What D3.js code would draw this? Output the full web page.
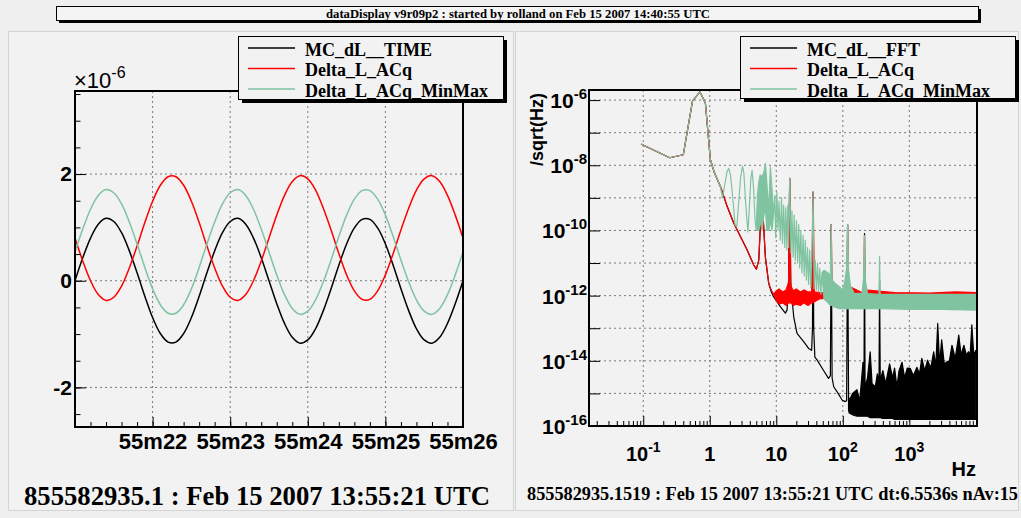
<!DOCTYPE html>
<html>
<head>
<meta charset="utf-8">
<script src="https://cdn.jsdelivr.net/npm/d3@7"></script>
<style>
  body { margin: 0; background: #efefef; }
  svg { display: block; }
</style>
</head>
<body>
<div id="chart"></div>
<script>
// ---------- time domain panel (amplitudes in units of 1e-6) ----------
const sampleStep = 0.1; // seconds after 13:55:21 UTC
const mcTime = [0, 0.43, 0.80, 1.06, 1.17, 1.11, 0.90, 0.56, 0.15, -0.29, -0.69, -0.99, -1.15, -1.15, -0.99, -0.69,
  -0.29, 0.15, 0.56, 0.90, 1.11, 1.17, 1.06, 0.80, 0.43, 0, -0.43, -0.80, -1.06, -1.17, -1.11, -0.90, -0.56, -0.15,
  0.29, 0.69, 0.99, 1.15, 1.15, 0.99, 0.69, 0.29, -0.15, -0.56, -0.90, -1.11, -1.17, -1.06, -0.80, -0.43, 0];
const acqTime = [0.80, 0.37, 0.00, -0.26, -0.37, -0.31, -0.10, 0.24, 0.65, 1.09, 1.49, 1.79, 1.95, 1.95, 1.79, 1.49,
  1.09, 0.65, 0.24, -0.10, -0.31, -0.37, -0.26, 0.00, 0.37, 0.80, 1.23, 1.60, 1.86, 1.97, 1.91, 1.70, 1.36, 0.95,
  0.51, 0.11, -0.19, -0.35, -0.35, -0.19, 0.11, 0.51, 0.95, 1.36, 1.70, 1.91, 1.97, 1.86, 1.60, 1.23, 0.80];
const minmaxTime = [0.54, 0.97, 1.34, 1.60, 1.71, 1.65, 1.44, 1.10, 0.69, 0.25, -0.15, -0.45, -0.61, -0.61, -0.45,
  -0.15, 0.25, 0.69, 1.10, 1.44, 1.65, 1.71, 1.60, 1.34, 0.97, 0.54, 0.11, -0.26, -0.52, -0.63, -0.57, -0.36, -0.02,
  0.39, 0.83, 1.23, 1.53, 1.69, 1.69, 1.53, 1.23, 0.83, 0.39, -0.02, -0.36, -0.57, -0.63, -0.52, -0.26, 0.11, 0.54];
const timeTickSec = [1, 2, 3, 4, 5];
const timeTickLabels = ["55m22", "55m23", "55m24", "55m25", "55m26"];
const ampTicks = [-2, 0, 2];
const ampTickLabels = ["-2", "0", "2"];

// ---------- spectrum panel: [freq Hz, value] or [freq Hz, min, max] ----------
const commonLow = [[0.094, 4.4e-8], [0.25, 1.7e-8], [0.40, 2.1e-8], [0.55, 9.3e-7], [0.71, 1.8e-6],
  [0.86, 8.0e-7], [1.02, 1.5e-8], [1.17, 6.0e-9], [1.45, 2.2e-9]];
const commonDescent = [[1.83, 5.4e-10], [2.29, 1.7e-10], [2.89, 6.5e-11], [3.65, 2.5e-11], [4.58, 8.7e-12],
  [5.02, 6.5e-12], [5.45, 1.2e-11], [5.92, 4.3e-10], [6.34, 2.6e-10], [6.86, 1.5e-11], [7.69, 2.4e-12]];
const mcFFT = [[8.4, 1.3e-12], [9.1, 9.3e-13], [11.5, 4.6e-13], [13.7, 2.9e-13], [14.5, 3.6e-13], [15.3, 3e-12],
  [15.9, 4e-9], [16.5, 2.5e-12], [17.3, 7.4e-13], [18.3, 2.2e-13], [20.5, 6.9e-14], [25.8, 3.9e-14], [30.6, 2.4e-14],
  [34, 2.1e-14], [35, 1e-13], [35.7, 1.5e-9], [36.5, 1e-13], [38, 1.3e-14], [41, 1.07e-14], [50, 5.5e-15],
  [61, 2.9e-15], [65, 3.5e-15], [67, 1.5e-10], [69, 3e-15], [73, 1.6e-15], [85, 1e-15], [97.5, 6.3e-16],
  [108, 5.6e-16], [114, 6e-16], [118, 1.5e-10], [122, 3e-16, 8e-16],
  [125, 2.5e-16, 6e-16], [140, 2.2e-16, 1.0e-15], [163, 2e-16, 1.3e-15], [180, 2e-16, 6e-16], [201, 2e-16, 9e-15],
  [208, 2e-16, 1.5e-15], [212, 2e-16, 8e-11], [216, 2e-16, 1.5e-15], [235, 2e-16, 3e-15], [258, 1.8e-16, 1.9e-14],
  [275, 1.8e-16, 2e-15], [308, 1.8e-16, 1.6e-15], [330, 1.8e-16, 4e-15], [350, 1.8e-16, 2.5e-15],
  [357, 1.8e-16, 3e-12], [365, 1.8e-16, 2.5e-15], [400, 1.7e-16, 5e-15], [440, 1.7e-16, 2e-15],
  [505, 1.7e-16, 8e-15], [560, 1.7e-16, 3e-15], [600, 1.6e-16, 6e-15], [650, 1.6e-16, 1.6e-15],
  [700, 1.6e-16, 5e-15], [777, 1.6e-16, 9e-15], [850, 1.6e-16, 3e-15], [930, 1.6e-16, 6e-15],
  [1030, 1.6e-16, 5.9e-15], [1150, 1.6e-16, 3.5e-15], [1300, 1.6e-16, 6.3e-15], [1420, 1.6e-16, 4e-15],
  [1540, 1.6e-16, 1.2e-14], [1700, 1.6e-16, 5e-15], [1880, 1.6e-16, 1.05e-14], [2100, 1.6e-16, 6e-15],
  [2320, 1.6e-16, 1.9e-14], [2500, 1.6e-16, 7e-15], [2670, 1.6e-16, 1.4e-13], [2850, 1.6e-16, 8e-15],
  [3060, 1.6e-16, 4.4e-14], [3350, 1.6e-16, 8e-15], [3660, 1.6e-16, 9.3e-15], [4000, 1.6e-16, 1e-14],
  [4370, 1.6e-16, 3e-14], [4900, 1.6e-16, 1.2e-14], [5530, 1.6e-16, 6.2e-14], [6000, 1.6e-16, 1.5e-14],
  [6600, 1.6e-16, 3e-14], [7200, 1.6e-16, 1.5e-14], [7730, 1.6e-16, 1.9e-14], [8200, 1.6e-16, 1.5e-14],
  [8700, 1.6e-16, 1.26e-13], [9300, 1.6e-16, 1.5e-14], [10000, 1.6e-16, 2.1e-14]];
const acqFFT = [[8.4, 1.5e-12], [9.1, 1.1e-12], [10, 7e-13, 1.4e-12], [11, 5.5e-13, 1.6e-12], [12.5, 6e-13, 1.3e-12],
  [14, 5e-13, 1.5e-12], [15.3, 6e-13, 2.5e-12], [15.9, 6e-13, 4e-9], [16.5, 6e-13, 2e-12], [18, 5e-13, 1.4e-12],
  [20, 5.5e-13, 1.6e-12], [23, 5e-13, 1.3e-12], [26, 6e-13, 1.5e-12], [30, 5e-13, 1.3e-12], [34, 6e-13, 1.3e-12],
  [35.7, 6e-13, 1.5e-9], [37.5, 6.5e-13, 1.3e-12], [45, 8e-13, 1.25e-12], [60, 8.5e-13, 1.2e-12],
  [65, 8.5e-13, 1.3e-12], [67, 8.5e-13, 1.5e-10], [69, 8.5e-13, 1.3e-12], [110, 8.5e-13, 1.2e-12],
  [116, 8.5e-13, 2e-12], [118, 8.5e-13, 1.5e-10], [120, 8.5e-13, 2e-12], [200, 8.5e-13, 1.2e-12],
  [208, 8.5e-13, 1.5e-12], [212, 8.5e-13, 7e-11], [216, 8.5e-13, 1.5e-12], [600, 8.5e-13, 1.25e-12],
  [2000, 8.5e-13, 1.2e-12], [5000, 8.5e-13, 1.3e-12], [10000, 8.5e-13, 1.25e-12]];
const minmaxFFT = [[1.55, 1.0e-9], [1.68, 2.5e-9], [1.82, 6.5e-9], [1.93, 8e-9], [2.05, 5e-9], [2.2, 1.2e-9],
  [2.4, 1.5e-10], [2.55, 1.3e-10], [2.7, 6e-10], [2.9, 4e-9], [3.1, 9.5e-9], [3.25, 6e-9], [3.5, 5e-10],
  [3.75, 9e-11], [3.95, 6e-10], [4.15, 4e-9], [4.33, 7e-9], [4.55, 2e-9], [4.8, 2e-10], [5.0, 1e-10],
  [5.2, 1e-10, 1.2e-9], [5.45, 1e-10, 3e-9], [5.7, 2e-10, 5e-9], [6.1, 1e-10, 4.5e-9], [6.5, 3e-10, 6e-9],
  [6.86, 5e-10, 1.15e-8], [7.2, 1e-10, 3e-9], [7.7, 1e-10, 4e-10], [8.15, 2e-10, 9e-9], [8.6, 1e-10, 2e-9],
  [9.1, 3e-10], [9.5, 1.2e-9], [9.8, 6e-11], [10.2, 1.5e-9], [10.6, 1e-10], [11, 8e-10], [11.5, 5e-11], [12, 1e-9],
  [12.4, 4e-11], [12.9, 6e-10], [13.4, 3e-11], [13.9, 5e-10], [14.4, 2.5e-11], [14.9, 6e-10], [15.3, 3e-11],
  [15.9, 4e-9], [16.6, 2e-11], [17.2, 4e-10], [17.9, 1.5e-11], [18.6, 3e-10], [19.3, 1.2e-11], [20.1, 2e-10],
  [20.9, 1e-11], [21.7, 1.5e-10], [22.5, 7e-12], [23.4, 1e-10], [24.3, 5e-12], [25.3, 7e-11], [26.3, 4e-12],
  [27.3, 5e-11], [28.4, 3e-12], [29.5, 3e-11], [30.6, 2.2e-12], [31.8, 2.5e-11], [33, 1.8e-12], [34.3, 1.5e-11],
  [35.7, 1.5e-9], [37, 1.6e-12], [38.5, 1.2e-11], [40, 1.5e-12], [41.6, 1e-11], [43.2, 1.3e-12], [45, 7e-12],
  [46.8, 1.1e-12], [48.5, 5e-12],
  [52, 8e-13, 6e-12], [60, 6e-13, 5e-12], [65, 5e-13, 4e-12],
  [67, 5e-13, 1.5e-10], [69, 5e-13, 3e-12], [75, 4.5e-13, 2.5e-12], [90, 4e-13, 1.8e-12], [100, 4e-13, 1.5e-12],
  [108, 4e-13, 3e-12], [114, 4e-13, 7e-12], [118, 4e-13, 1.5e-10], [122, 4e-13, 6e-12], [130, 4e-13, 2e-12],
  [150, 4e-13, 1.15e-12], [195, 4e-13, 1.2e-12], [205, 4e-13, 3.5e-12], [212, 4e-13, 7e-11],
  [218, 4e-13, 3e-12], [235, 4e-13, 1.15e-12], [350, 4e-13, 1.1e-12], [357, 4e-13, 1.6e-11],
  [364, 4e-13, 1.1e-12], [1000, 3.8e-13, 1.1e-12], [3000, 3.8e-13, 1.1e-12], [10000, 3.6e-13, 1.1e-12]];
const freqTicks = [0.1, 1, 10, 100, 1000];
const freqTickLabels = [["10", "-1"], ["1", ""], ["10", ""], ["10", "2"], ["10", "3"]];
const asdDecades = [1e-16, 1e-15, 1e-14, 1e-13, 1e-12, 1e-11, 1e-10, 1e-9, 1e-8, 1e-7, 1e-6];
const asdTicks = [1e-16, 1e-14, 1e-12, 1e-10, 1e-8, 1e-6];
const asdTickLabels = ["-16", "-14", "-12", "-10", "-8", "-6"];

const timeNames = ["MC_dL__TIME", "Delta_L_ACq", "Delta_L_ACq_MinMax"];
const fftNames = ["MC_dL__FFT", "Delta_L_ACq", "Delta_L_ACq_MinMax"];
const colors = ["#000000", "#ff0000", "#7fc3a1"];

const titleText = "dataDisplay v9r09p2 : started by rolland on Feb 15 2007 14:40:55 UTC";
const leftFooter = "855582935.1 : Feb 15 2007 13:55:21 UTC";
const rightFooter = "855582935.1519 : Feb 15 2007 13:55:21 UTC dt:6.5536s nAv:15";

// ---------- drawing ----------
const sans = "'Liberation Sans', Arial, sans-serif";
const serif = "'Liberation Serif', 'Times New Roman', serif";

const svg = d3.select("#chart").append("svg")
  .attr("width", 1021).attr("height", 518)
  .style("font-family", sans);

svg.append("rect").attr("width", 1021).attr("height", 518).attr("fill", "#efefef");

// pads
[[8.5, 31.5, 505, 479], [515.5, 31.5, 503, 479]].forEach(p => {
  svg.append("rect").attr("x", p[0]).attr("y", p[1]).attr("width", p[2]).attr("height", p[3])
    .attr("fill", "#f2f2f2").attr("stroke", "#d4d4d4");
});

// title box
svg.append("rect").attr("x", 59).attr("y", 9).attr("width", 922).attr("height", 14).attr("fill", "#000");
svg.append("rect").attr("x", 56.5).attr("y", 6.5).attr("width", 922).attr("height", 14)
  .attr("fill", "#f4f4f4").attr("stroke", "#000");
svg.append("text").attr("x", 518).attr("y", 17.5).attr("text-anchor", "middle")
  .attr("font-family", serif).attr("font-weight", "bold").attr("font-size", 12)
  .attr("textLength", 384).attr("lengthAdjust", "spacingAndGlyphs").text(titleText);

function legend(x, y, w, h, names) {
  svg.append("rect").attr("x", x + 4).attr("y", y + 4).attr("width", w).attr("height", h).attr("fill", "#000");
  svg.append("rect").attr("x", x + 0.5).attr("y", y + 0.5).attr("width", w).attr("height", h)
    .attr("fill", "#f2f2f2").attr("stroke", "#000");
  names.forEach((n, i) => {
    const cy = y + 12 + i * 20.5;
    svg.append("line").attr("x1", x + 10).attr("x2", x + 57).attr("y1", cy).attr("y2", cy)
      .attr("stroke", colors[i]).attr("stroke-width", 1.5);
    svg.append("text").attr("x", x + 67).attr("y", cy + 7.5)
      .attr("font-family", serif).attr("font-weight", "bold").attr("font-size", 18).text(n);
  });
}

function styleAxis(g) {
  g.select(".domain").remove();
  g.selectAll(".tick line").attr("stroke", "#000").attr("stroke-width", 1);
  g.selectAll(".tick text").attr("fill", "#000").attr("font-family", sans).attr("font-weight", "bold");
}

function grid(g, xs, ys, x0, x1, y0, y1) {
  g.selectAll(null).data(xs).join("line")
    .attr("x1", d => d).attr("x2", d => d).attr("y1", y0).attr("y2", y1)
    .attr("stroke", "#7a7a7a").attr("stroke-dasharray", "2,3");
  g.selectAll(null).data(ys).join("line")
    .attr("x1", x0).attr("x2", x1).attr("y1", d => d).attr("y2", d => d)
    .attr("stroke", "#7a7a7a").attr("stroke-dasharray", "2,3");
}

// ----- left: time series -----
const L = { x0: 75, x1: 463, y0: 91, y1: 427 };
const tx = d3.scaleLinear().domain([0, 5]).range([L.x0, L.x1]);
const ty = d3.scaleLinear().domain([-2.742, 3.557]).range([L.y1, L.y0]);
const gl = svg.append("g");

grid(gl, timeTickSec.slice(0, 4).map(tx), ampTicks.map(ty), L.x0, L.x1, L.y0, L.y1);

svg.append("clipPath").attr("id", "clipL").append("rect")
  .attr("x", L.x0).attr("y", L.y0).attr("width", L.x1 - L.x0).attr("height", L.y1 - L.y0);

const tline = d3.line().x((d, i) => tx(i * sampleStep)).y(d => ty(d)).curve(d3.curveCatmullRom);
[mcTime, acqTime, minmaxTime].forEach((s, i) => {
  gl.append("path").datum(s).attr("clip-path", "url(#clipL)")
    .attr("fill", "none").attr("stroke", colors[i]).attr("stroke-width", 1.5).attr("d", tline);
});

const minorSec = d3.range(0, 5.001, 0.2);
gl.append("g").attr("transform", `translate(0,${L.y1})`)
  .call(d3.axisBottom(tx).tickValues(minorSec).tickFormat("").tickSize(-5).tickSizeOuter(0)).call(styleAxis);
gl.append("g").attr("transform", `translate(0,${L.y1})`)
  .call(d3.axisBottom(tx).tickValues([0].concat(timeTickSec)).tickSize(-10).tickSizeOuter(0).tickPadding(6)
    .tickFormat(d => d === 0 ? "" : timeTickLabels[timeTickSec.indexOf(d)]))
  .call(styleAxis)
  .selectAll(".tick text").attr("font-size", 22);

const minorAmp = d3.range(-2.5, 3.51, 0.5);
gl.append("g").attr("transform", `translate(${L.x0},0)`)
  .call(d3.axisLeft(ty).tickValues(minorAmp).tickFormat("").tickSize(-5.5).tickSizeOuter(0)).call(styleAxis);
gl.append("g").attr("transform", `translate(${L.x0},0)`)
  .call(d3.axisLeft(ty).tickValues(ampTicks).tickSize(-11).tickSizeOuter(0).tickPadding(3)
    .tickFormat((d, i) => ampTickLabels[i]))
  .call(styleAxis)
  .selectAll(".tick text").attr("font-size", 21);

gl.append("rect").attr("x", L.x0).attr("y", L.y0).attr("width", L.x1 - L.x0).attr("height", L.y1 - L.y0)
  .attr("fill", "none").attr("stroke", "#000").attr("stroke-width", 2);

const expo = gl.append("text").attr("x", L.x0 - 1).attr("y", 88).attr("font-size", 22);
expo.append("tspan").text("\u00d710");
expo.append("tspan").attr("dy", -10).attr("font-size", 16).text("-6");

legend(238, 36, 265, 63, timeNames);

// ----- right: spectra -----
const R = { x0: 589, x1: 977, y0: 90, y1: 426 };
const fx = d3.scaleLog().domain([0.0153, 10400]).range([R.x0, R.x1]);
const fy = d3.scaleLog().domain([1e-16, 2.04e-6]).range([R.y1, R.y0]);
const gr = svg.append("g");

grid(gr, freqTicks.map(fx), asdDecades.slice(1).map(fy), R.x0, R.x1, R.y0, R.y1);

svg.append("clipPath").attr("id", "clipR").append("rect")
  .attr("x", R.x0).attr("y", R.y0).attr("width", R.x1 - R.x0).attr("height", R.y1 - R.y0);

const toBand = arr => arr.map(d => ({ f: d[0], lo: d[1], hi: d.length > 2 ? d[2] : d[1] }));
const band = d3.area().x(d => fx(d.f)).y0(d => fy(d.lo)).y1(d => fy(d.hi));
const spectra = [
  commonLow.concat(commonDescent, mcFFT),
  commonLow.concat(commonDescent, acqFFT),
  commonLow.concat(minmaxFFT)
];
spectra.forEach((s, i) => {
  gr.append("path").datum(toBand(s)).attr("clip-path", "url(#clipR)")
    .attr("fill", colors[i]).attr("stroke", colors[i]).attr("stroke-width", 1.2)
    .attr("stroke-linejoin", "round").attr("d", band);
});

const minorFreq = [];
[-2, -1, 0, 1, 2, 3].forEach(e => d3.range(2, 10).forEach(m => {
  const v = m * Math.pow(10, e);
  if (v > 0.0153 && v < 10400) minorFreq.push(v);
}));
gr.append("g").attr("transform", `translate(0,${R.y1})`)
  .call(d3.axisBottom(fx).tickValues(minorFreq).tickFormat("").tickSize(-5).tickSizeOuter(0)).call(styleAxis);
gr.append("g").attr("transform", `translate(0,${R.y1})`)
  .call(d3.axisBottom(fx).tickValues(freqTicks).tickFormat("").tickSize(-10).tickSizeOuter(0)).call(styleAxis);
gr.append("g").attr("transform", `translate(${R.x0},0)`)
  .call(d3.axisLeft(fy).tickValues(asdDecades).tickFormat("").tickSize(-11).tickSizeOuter(0)).call(styleAxis);

const xl = gr.selectAll(null).data(freqTicks).join("text")
  .attr("x", d => fx(d)).attr("y", 461).attr("text-anchor", "middle")
  .attr("font-weight", "bold").attr("font-size", 20);
xl.append("tspan").text((d, i) => freqTickLabels[i][0]);
xl.append("tspan").attr("dy", -9).attr("font-size", 14).text((d, i) => freqTickLabels[i][1]);

const yl = gr.selectAll(null).data(asdTicks).join("text")
  .attr("x", 587).attr("y", d => fy(d) + 8).attr("text-anchor", "end")
  .attr("font-weight", "bold").attr("font-size", 21);
yl.append("tspan").text("10");
yl.append("tspan").attr("dy", -9).attr("font-size", 15).text((d, i) => asdTickLabels[i]);

gr.append("text").attr("x", 976).attr("y", 476).attr("text-anchor", "end")
  .attr("font-weight", "bold").attr("font-size", 20).text("Hz");
gr.append("text").attr("transform", "translate(543,93) rotate(-90)").attr("text-anchor", "end")
  .attr("font-weight", "bold").attr("font-size", 18).text("/sqrt(Hz)");

gr.append("rect").attr("x", R.x0).attr("y", R.y0).attr("width", R.x1 - R.x0).attr("height", R.y1 - R.y0)
  .attr("fill", "none").attr("stroke", "#000").attr("stroke-width", 2);

legend(740, 36, 275, 62, fftNames);

// footers
svg.append("text").attr("x", 24).attr("y", 505)
  .attr("font-family", serif).attr("font-weight", "bold").attr("font-size", 28)
  .attr("textLength", 466).attr("lengthAdjust", "spacingAndGlyphs").text(leftFooter);
svg.append("text").attr("x", 527).attr("y", 500)
  .attr("font-family", serif).attr("font-weight", "bold").attr("font-size", 18)
  .attr("textLength", 491).attr("lengthAdjust", "spacingAndGlyphs").text(rightFooter);
</script>
</body>
</html>
